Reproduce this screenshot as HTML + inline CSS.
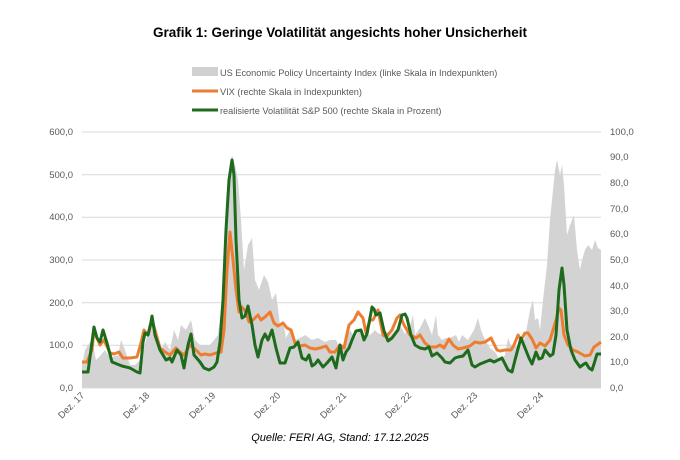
<!DOCTYPE html>
<html><head><meta charset="utf-8"><style>
body{margin:0;background:#fff;}
svg text{font-family:"Liberation Sans",sans-serif;}
</style></head><body>
<svg width="680" height="455" xmlns="http://www.w3.org/2000/svg">
<rect width="680" height="455" fill="#fff"/>
<text x="340" y="37" text-anchor="middle" font-size="13.5" font-weight="bold" fill="#000">Grafik 1: Geringe Volatilität angesichts hoher Unsicherheit</text>
<rect x="192" y="67" width="26" height="9" fill="#d0d0d0"/>
<text x="220" y="76" font-size="9.2" fill="#595959">US Economic Policy Uncertainty Index (linke Skala in Indexpunkten)</text>
<line x1="192" y1="91" x2="218" y2="91" stroke="#ed7d31" stroke-width="3"/>
<text x="220" y="95" font-size="9.2" fill="#595959">VIX (rechte Skala in Indexpunkten)</text>
<line x1="192" y1="110" x2="218" y2="110" stroke="#1e6b1e" stroke-width="3"/>
<text x="220" y="114" font-size="9.2" fill="#595959">realisierte Volatilität S&amp;P 500 (rechte Skala in Prozent)</text>
<g stroke="#d9d9d9" stroke-width="1">
<line x1="82" y1="132" x2="601" y2="132"/><line x1="82" y1="174.7" x2="601" y2="174.7"/>
<line x1="82" y1="217.3" x2="601" y2="217.3"/><line x1="82" y1="260" x2="601" y2="260"/>
<line x1="82" y1="302.7" x2="601" y2="302.7"/><line x1="82" y1="345.3" x2="601" y2="345.3"/>
</g>
<g font-size="9.5" fill="#595959" text-anchor="end">
<text x="73" y="135">600,0</text><text x="73" y="178">500,0</text><text x="73" y="220">400,0</text>
<text x="73" y="263">300,0</text><text x="73" y="306">200,0</text><text x="73" y="348">100,0</text><text x="73" y="391">0,0</text>
</g>
<g font-size="9.5" fill="#595959">
<text x="610" y="135">100,0</text><text x="610" y="160">90,0</text><text x="610" y="186">80,0</text>
<text x="610" y="212">70,0</text><text x="610" y="237">60,0</text><text x="610" y="263">50,0</text>
<text x="610" y="289">40,0</text><text x="610" y="314">30,0</text><text x="610" y="340">20,0</text>
<text x="610" y="365">10,0</text><text x="610" y="391">0,0</text>
</g>
<polygon fill="#d3d3d3" points="82,388 82,365 85,350 88,345 92,340 96,360 100,356 105,350 110,358 115,356 118,356 121,340 125,350 130,365 135,365 140,360 143,352 146,340 150,322 153,325 157,345 162,348 165,342 170,350 174,330 178,340 181,325 186,330 191,320 195,340 200,345 206,345 210,345 214,340 218,335 222,300 226,200 229,170 232,155 235,165 238,180 241,220 244,270 248,245 252,238 255,280 259,290 264,275 268,282 272,300 276,293 280,325 283,320 286,338 290,330 295,340 300,338 305,335 312,340 318,338 325,342 330,340 336,340 340,348 345,345 350,330 355,338 360,328 365,335 370,335 375,330 378,333 382,335 385,330 390,336 395,330 400,325 405,334 410,326 413,315 415,335 420,328 425,318 428,325 432,335 436,315 438,335 442,340 446,338 450,338 456,335 459,342 462,335 468,340 474,330 478,318 481,330 485,340 490,348 495,352 500,360 505,355 508,338 512,348 516,346 520,345 525,338 530,310 533,300 535,320 538,318 540,330 543,300 547,265 550,220 553,190 555,170 557,160 560,175 562,165 564,185 567,235 570,225 574,215 577,250 580,270 582,260 585,250 588,245 592,250 595,240 598,248 601,250 601,388"/>
<line x1="82" y1="388" x2="601" y2="388" stroke="#d9d9d9"/>
<polyline fill="none" stroke="#ed7d31" stroke-width="3" stroke-linejoin="round" points="82,362 87,362 92,350 94,330 97,338 100,345 104,340 110,353 114,354 119,352 123,358 130,358 137,357 141,343 144,330 148,335 152,320 155,330 160,348 165,352 170,355 176,348 180,352 184,355 190,345 196,350 201,355 205,354 210,355 216,353 221,352 224,330 227,270 230,232 233,260 236,290 239,312 242,307 246,312 249,322 253,320 258,315 261,320 265,317 270,312 274,323 278,326 283,323 287,328 291,330 295,343 300,346 305,345 310,348 315,349 320,348 326,346 330,352 335,352 340,345 344,348 349,325 354,320 358,312 363,318 366,333 370,320 373,320 378,310 383,335 386,337 392,330 397,318 400,315 404,325 410,335 416,338 420,335 425,343 430,347 436,347 440,345 444,348 449,339 453,345 458,349 463,348 470,346 475,342 480,343 485,342 491,338 497,350 500,351 505,350 511,350 514,345 518,335 521,340 525,333 528,333 532,339 536,348 540,343 545,346 550,340 556,320 559,308 561,310 564,335 568,345 573,350 578,352 585,356 590,355 594,347 597,345 601,342"/>
<polyline fill="none" stroke="#1e6b1e" stroke-width="3" stroke-linejoin="round" points="82,372 88,372 94,327 97,338 100,342 103,330 107,343 112,362 122,366 130,368 137,372 140,373 143,342 145,333 148,335 151,322 152,316 155,335 160,350 166,360 170,358 172,362 177,350 181,355 184,368 188,345 191,334 194,355 200,362 204,368 209,370 214,367 217,362 220,342 223,300 226,230 229,180 232,160 234,175 236,240 239,300 242,318 245,316 248,306 252,325 255,345 258,357 262,340 265,334 268,340 272,330 276,348 280,363 285,363 290,348 294,347 298,342 302,358 306,360 309,355 312,366 315,364 318,360 323,367 327,363 332,357 336,368 340,345 343,360 346,352 349,348 352,340 356,331 361,330 364,340 367,334 372,307 374,309 376,315 380,313 384,331 388,341 392,338 398,330 402,315 405,314 407,318 411,335 415,345 420,348 425,349 429,347 432,356 437,353 442,358 445,362 450,363 455,358 458,357 463,356 468,350 472,365 475,367 480,364 485,362 490,360 494,362 498,360 502,358 508,370 512,372 515,360 519,345 521,338 525,348 529,358 532,364 536,352 539,359 542,358 545,350 550,356 553,354 556,335 559,290 562,268 564,285 567,330 571,350 575,360 580,367 584,364 586,363 589,368 592,370 594,364 597,354 601,354"/>
<g font-size="9.5" fill="#595959" text-anchor="end">
<text transform="translate(85,396) rotate(-45)">Dez. 17</text>
<text transform="translate(150,396) rotate(-45)">Dez. 18</text>
<text transform="translate(216,396) rotate(-45)">Dez. 19</text>
<text transform="translate(281,396) rotate(-45)">Dez. 20</text>
<text transform="translate(347,396) rotate(-45)">Dez. 21</text>
<text transform="translate(412,396) rotate(-45)">Dez. 22</text>
<text transform="translate(478,396) rotate(-45)">Dez. 23</text>
<text transform="translate(544,396) rotate(-45)">Dez. 24</text>
</g>
<text x="340" y="441" text-anchor="middle" font-size="11" font-style="italic" fill="#000">Quelle: FERI AG, Stand: 17.12.2025</text>
</svg>
</body></html>
